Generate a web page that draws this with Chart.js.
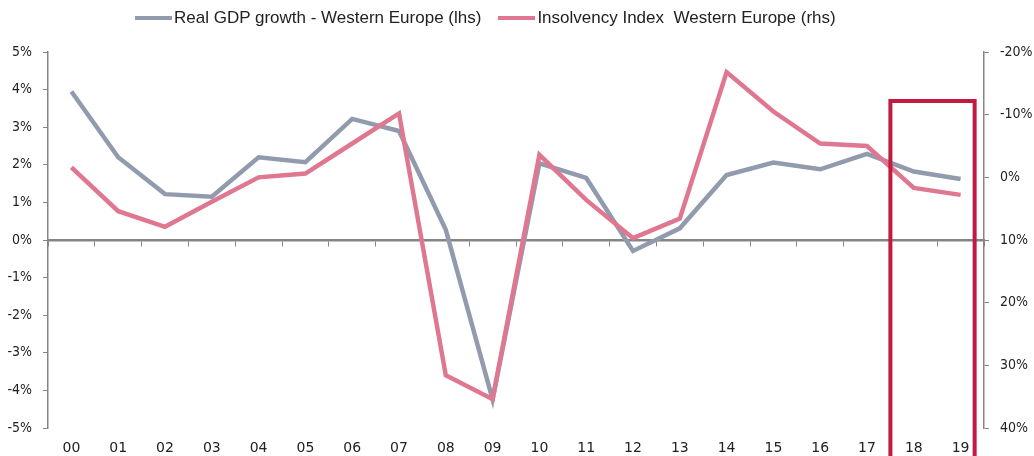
<!DOCTYPE html>
<html>
<head>
<meta charset="utf-8">
<script src="https://cdn.jsdelivr.net/npm/chart.js@4"></script>
<style>
  body { margin: 0; background: #fff; }
  #wrap { position: relative; width: 1034px; height: 456px; }
  #legenda { position: absolute; top: 8px; left: 135px; display: flex; align-items: center;
             font-family: "Liberation Sans", Arial, sans-serif; font-size: 17px; color: #222;
             white-space: pre; }
  .item { display: flex; align-items: center; margin-right: 17px; }
  .linha { width: 37px; height: 4px; margin-right: 2px; }
</style>
</head>
<body>
<div id="wrap">
  <canvas id="grafico" width="1034" height="456"></canvas>
  <div id="legenda"></div>
</div>
<script>
// anos (rótulos do eixo x)
const anos = ['00','01','02','03','04','05','06','07','08','09','10','11','12','13','14','15','16','17','18','19'];

// PIB real - Europa Ocidental (eixo esquerdo, %)
const pibReal = [3.95, 2.2, 1.22, 1.15, 2.2, 2.07, 3.22, 2.9, 0.27, -4.24, 2.04, 1.65, -0.29, 0.31, 1.73, 2.06, 1.88, 2.29, 1.82, 1.62];

// Índice de insolvência - Europa Ocidental (eixo direito invertido, %)
const insolvencia = [-1.6, 5.4, 7.9, 3.9, 0.0, -0.6, -5.4, -10.2, 31.6, 35.4, -3.6, 3.6, 9.7, 6.6, -16.8, -10.5, -5.4, -5.0, 1.7, 2.8];

const rotuloPib = 'Real GDP growth - Western Europe (lhs)';
const rotuloInsolvencia = 'Insolvency Index  Western Europe (rhs)';

// período de previsão destacado pela caixa vermelha
const inicioPrevisao = '18';
const topoCaixa = 3.7;

const corPib = '#929bae';
const corInsolvencia = '#e07790';
const corEixo = '#858585';
const fonteX = { family: 'DejaVu Sans', size: 14 };
const fonteY = { family: '"DejaVu Sans Condensed", "DejaVu Sans"', size: 14 };

const caixaPrevisao = {
    id: 'caixaPrevisao',
    afterDatasetsDraw(chart) {
        const x = chart.scales.x, y = chart.scales.y;
        const i0 = anos.indexOf(inicioPrevisao);
        const passo = x.getPixelForValue(1) - x.getPixelForValue(0);
        const esq = x.getPixelForValue(i0) - passo / 2;
        const dir = x.getPixelForValue(anos.length - 1) + passo * 0.3;
        const topo = y.getPixelForValue(topoCaixa);
        const ctx = chart.ctx;
        ctx.save();
        ctx.strokeStyle = '#c21a40';
        ctx.lineWidth = 4;
        ctx.beginPath();
        ctx.moveTo(esq, chart.height + 10);
        ctx.lineTo(esq, topo);
        ctx.lineTo(dir, topo);
        ctx.lineTo(dir, chart.height + 10);
        ctx.stroke();
        ctx.restore();
    }
};

const ctx = document.getElementById('grafico').getContext('2d');
new Chart(ctx, {
    type: 'line',
    data: {
        labels: anos,
        datasets: [
            { label: rotuloPib, data: pibReal, yAxisID: 'y', xAxisID: 'x',
              borderColor: corPib, borderWidth: 4.5, pointRadius: 0, tension: 0, order: 2 },
            { label: rotuloInsolvencia, data: insolvencia, yAxisID: 'y1', xAxisID: 'x',
              borderColor: corInsolvencia, borderWidth: 4.5, pointRadius: 0, tension: 0, order: 1 }
        ]
    },
    options: {
        responsive: false,
        animation: false,
        layout: { padding: { top: 52, bottom: 0, left: 0, right: 0 } },
        plugins: { legend: { display: false }, tooltip: { enabled: false } },
        scales: {
            x: {
                type: 'category', position: 'bottom', offset: true,
                grid: { display: false, drawTicks: false, tickLength: 0, offset: true },
                border: { display: false },
                ticks: { color: '#222', font: fonteX, padding: 12, maxRotation: 0, autoSkip: false },
                afterFit: s => { s.height = 28; }
            },
            xz: {
                type: 'category', labels: anos, position: { y: 0 }, offset: true,
                grid: { offset: true, drawOnChartArea: false, tickLength: 5, color: corEixo, lineWidth: 1 },
                border: { color: corEixo, width: 2.5 },
                ticks: { display: false }
            },
            y: {
                position: 'left', min: -5, max: 5,
                ticks: { stepSize: 1, color: '#222', font: fonteY, padding: 11, callback: v => v + '%' },
                grid: { drawOnChartArea: false, tickLength: 5, color: corEixo },
                border: { color: corEixo, width: 1.5 },
                afterFit: s => { s.width = 48; }
            },
            y1: {
                position: 'right', min: -20, max: 40, reverse: true,
                ticks: { stepSize: 10, color: '#222', font: fonteY, padding: 11, callback: v => v + '%' },
                grid: { drawOnChartArea: false, tickLength: 5, color: corEixo },
                border: { color: corEixo, width: 1.5 },
                afterFit: s => { s.width = 50; }
            }
        }
    },
    plugins: [caixaPrevisao]
});

const legenda = document.getElementById('legenda');
[[rotuloPib, corPib], [rotuloInsolvencia, corInsolvencia]].forEach(([texto, cor]) => {
    legenda.innerHTML += `<div class="item"><span class="linha" style="background:${cor}"></span><span>${texto}</span></div>`;
});
</script>
</body>
</html>
